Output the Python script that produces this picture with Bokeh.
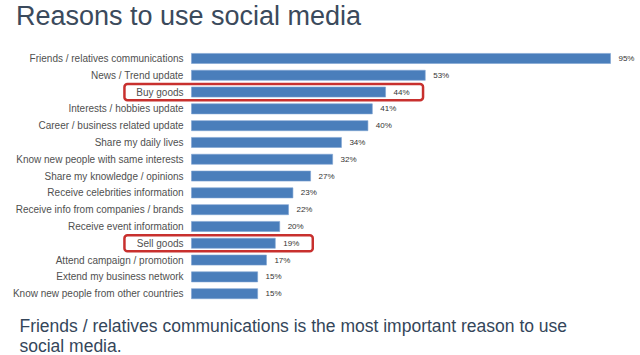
from bokeh.plotting import figure
from bokeh.models import Range1d, ColumnDataSource, Label
from bokeh.core.properties import value
from bokeh.embed import file_html
from bokeh.resources import INLINE

categories = [
    "Friends / relatives communications",
    "News / Trend update",
    "Buy goods",
    "Interests / hobbies update",
    "Career / business related update",
    "Share my daily lives",
    "Know new people with same interests",
    "Share my knowledge / opinions",
    "Receive celebrities information",
    "Receive info from companies / brands",
    "Receive event information",
    "Sell goods",
    "Attend campaign / promotion",
    "Extend my business network",
    "Know new people from other countries",
]
values = [95, 53, 44, 41, 40, 34, 32, 27, 23, 22, 20, 19, 17, 15, 15]
value_labels = [f"{v}%" for v in values]
highlighted = ["Buy goods", "Sell goods"]

title_text = "Reasons to use social media"
footer_line1 = "Friends / relatives communications is the most important reason to use"
footer_line2 = "social media."

FONT = "Liberation Sans"

idx = list(range(len(categories)))
src = ColumnDataSource(dict(
    y=idx, v=values, cat=categories, lab=value_labels,
    lx=[v + 1.8 for v in values],
))

p = figure(width=640, height=355, output_backend="svg", toolbar_location=None,
           x_range=Range1d(-43.3, 101.8), y_range=Range1d(17.68, -3.45),
           min_border=0, min_border_left=0, min_border_right=0,
           min_border_top=0, min_border_bottom=0)
p.axis.visible = False
p.grid.visible = False
p.outline_line_color = None
p.background_fill_color = "white"
p.border_fill_color = "white"

p.hbar(y="y", left=0, right="v", height=0.6, source=src,
       fill_color="#4a7ebb", line_color="#7ea3d2", line_width=0.6)

p.text(x=-1.8, y="y", text="cat", source=src, text_align="right",
       text_baseline="middle", text_font=value(FONT), text_font_size="10px",
       text_color="#505050")
p.text(x="lx", y="y", text="lab", source=src, text_align="left",
       text_baseline="middle", text_font=value(FONT), text_font_size="8px",
       text_color="#333333")

hb = [categories.index(h) for h in highlighted]
p.quad(left=[-15.2] * len(hb), right=[values[i] + 8.5 for i in hb],
       top=[i - 0.48 for i in hb], bottom=[i + 0.48 for i in hb],
       fill_color=None, line_color="#c8302e", line_width=2.5, border_radius=3)

p.add_layout(Label(x=-39.8, y=-2.55, text=title_text, text_font=FONT,
                   text_font_size="27px", text_color="#3b4a5c",
                   text_baseline="middle", text_align="left"))
p.add_layout(Label(x=-39.0, y=15.9, text=footer_line1, text_font=FONT,
                   text_font_size="17.5px", text_color="#34465a",
                   text_baseline="middle", text_align="left"))
p.add_layout(Label(x=-39.0, y=17.1, text=footer_line2, text_font=FONT,
                   text_font_size="17.5px", text_color="#34465a",
                   text_baseline="middle", text_align="left"))

open("out.html", "w").write(file_html(p, INLINE))
